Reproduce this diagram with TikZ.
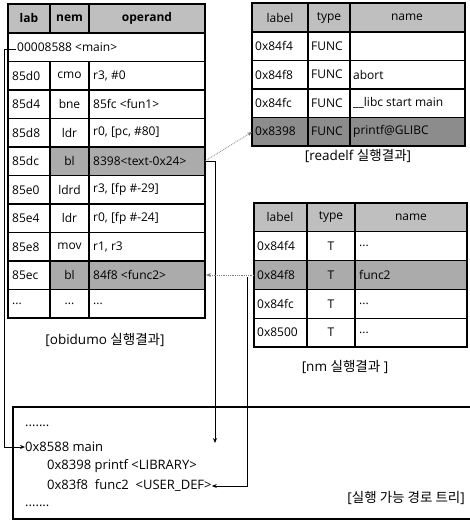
\documentclass[tikz,border=0pt]{standalone}
\usepackage{fontspec}
\setmainfont{Open Sans}
\newfontfamily\kr{Noto Sans CJK KR}
\usetikzlibrary{arrows.meta}
\begin{document}
\begin{tikzpicture}[x=1pt,y=-1pt, font=\fontsize{12}{14}\selectfont,
 grid/.style={line width=1.1pt},
 hdr/.style={fill=black!25},
 hl/.style={fill=black!33},
 hl2/.style={fill=black!45},
 lt/.style={inner sep=0pt, anchor=west},
 ct/.style={inner sep=0pt},
 captxt/.style={inner sep=0pt, font=\fontsize{13.5}{15}\selectfont},
 tree/.style={inner sep=0pt, anchor=west, font=\fontsize{13}{15}\selectfont},
 conn/.style={line width=0.9pt, -{Stealth[length=5pt,width=4pt]}},
 dconn/.style={line width=0.8pt, black!50, densely dotted, -{Stealth[length=5pt,width=4pt]}}]
\useasboundingbox (0,0) rectangle (469,522);

% ---------- objdump table ----------
\fill[hdr] (8,4) rectangle (205,33);
\fill[hl] (50,147) rectangle (205,175.5);
\fill[hl] (50,261) rectangle (205,289.5);
\draw[grid] (8,4) rectangle (205,318);
\foreach \k in {0,...,9} \draw[grid] (8,33+28.5*\k) -- (205,33+28.5*\k);
\draw[grid] (50,4) -- (50,33) (89,4) -- (89,33);
\draw[grid] (50,61.5) -- (50,318) (89,61.5) -- (89,318);
\node[ct, font=\fontsize{12}{14}\selectfont\bfseries] (hlab) at (29,18) {lab};
\node[ct, font=\fontsize{12}{14}\selectfont\bfseries] (hnem) at (69.5,18) {nem};
\node[ct, font=\fontsize{12}{14}\selectfont\bfseries] (hop) at (147,18) {operand};
\node[lt] (mrow) at (17,47.5) {00008588 <main>};
\foreach \a/\b/\c [count=\i] in {85d0/cmo/{r3, \#0}, 85d4/bne/{85fc <fun1>}, 85d8/ldr/{r0, [pc, \#80]}, 85dc/bl/{8398<text-0x24>}, 85e0/ldrd/{r3, [fp \#-29]}, 85e4/ldr/{r0, [fp \#-24]}, 85e8/mov/{r1, r3}, 85ec/bl/{84f8 <func2>}, {...}/{...}/{...}} {
  \node[lt] (l\i) at (12,47.25+28.5*\i) {\a};
  \node[ct] (n\i) at (69.5,47.25+28.5*\i) {\b};
  \node[lt] (o\i) at (93,47.25+28.5*\i) {\c};
}
\node[captxt] (capL) at (105,340) {[obidumo {\kr 실행결과}]};

% ---------- readelf table ----------
\fill[hdr] (252,3) rectangle (465,32);
\fill[hl2] (252,117.5) rectangle (465,146);
\draw[grid] (252,3) rectangle (465,146);
\foreach \k in {32,60.5,89,117.5} \draw[grid] (252,\k) -- (465,\k);
\draw[grid] (308,3) -- (308,146) (350,3) -- (350,146);
\node[ct] (rh1) at (280,17.5) {label};
\node[ct] (rh2) at (329,17.5) {type};
\node[ct] (rh3) at (407,17.5) {name};
\foreach \a/\b/\c [count=\i] in {0x84f4/FUNC/{}, 0x84f8/FUNC/abort, 0x84fc/FUNC/{\_\_libc start main}, 0x8398/FUNC/{printf@GLIBC}} {
  \node[lt] (ra\i) at (255,17.5+28.5*\i) {\a};
  \node[lt] (rb\i) at (311,17.5+28.5*\i) {\b};
  \node[lt] (rc\i) at (353,17.5+28.5*\i) {\c};
}
\node[captxt] (capR) at (358,156) {[readelf {\kr 실행결과}]};

% ---------- nm table ----------
\fill[hdr] (254,203) rectangle (467,231.8);
\fill[hl] (254,260.6) rectangle (467,289.4);
\draw[grid] (254,203) rectangle (467,347);
\foreach \k in {231.8,260.6,289.4,318.2} \draw[grid] (254,\k) -- (467,\k);
\draw[grid] (307,203) -- (307,347) (355,203) -- (355,347);
\node[ct] (nh1) at (280,217.4) {label};
\node[ct] (nh2) at (331,217.4) {type};
\node[ct] (nh3) at (411,217.4) {name};
\foreach \a/\c [count=\i] in {0x84f4/{...}, 0x84f8/func2, 0x84fc/{...}, 0x8500/{...}} {
  \node[lt] (na\i) at (257,217.4+28.8*\i) {\a};
  \node[ct] (nb\i) at (331,217.4+28.8*\i) {T};
  \node[lt] (nc\i) at (359,217.4+28.8*\i) {\c};
}
\node[captxt] (capN) at (345,367) {[nm {\kr 실행결과} ]};

% ---------- tree box ----------
\draw[grid] (13,407) rectangle (476,519);
\node[tree] (td1) at (25,426) {.......};
\node[tree] (tmain) at (25,447) {0x8588 main};
\node[tree] (tprintf) at (47,466) {0x8398 printf <LIBRARY>};
\node[tree] (tfunc) at (47,486) {0x83f8\ \ func2\ \ <USER\_DEF>};
\node[tree] (td2) at (25,506) {.......};
\node[captxt, anchor=east] (capT) at (465,498) {[{\kr 실행 가능 경로 트리}]};

% ---------- connectors ----------
\coordinate (mainL) at (16,49);
\coordinate (j1) at (4,49);
\draw[conn] (mainL) -- (j1) |- (tmain.west);

\coordinate (r4e) at (205,161);
\coordinate (v1) at (215,161);
\coordinate (v1b) at (215,443);
\draw[conn] (r4e) -- (v1) -- (v1b);
\coordinate (re4w) at (252,132);
\draw[dconn] (r4e) -- (re4w);

\coordinate (r8e) at (206,275);
\coordinate (nm2w) at (254,275);
\draw[dconn] (nm2w) -- (r8e);
\coordinate (v2) at (247,277);
\draw[conn] (v2) |- (tfunc.east);
\end{tikzpicture}
\end{document}
